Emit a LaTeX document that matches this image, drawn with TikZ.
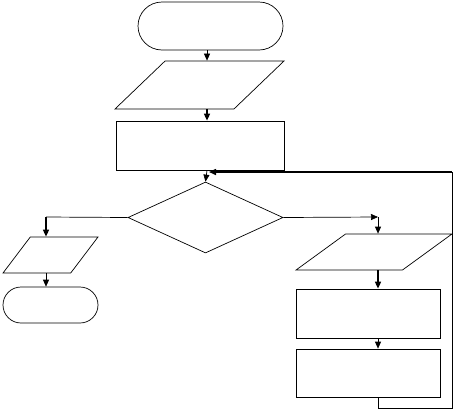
\documentclass[tikz,border=0pt]{standalone}
\usepackage{tikz}
\usetikzlibrary{positioning, arrows.meta, shapes.geometric}

\begin{document}
\begin{tikzpicture}[x=1pt, y=-1pt, line width=0.7pt,
  termbox/.style={draw, rounded corners=#1, inner sep=0pt},
  iobox/.style={draw, trapezium, trapezium stretches=true, inner sep=2pt},
  procbox/.style={draw, rectangle, inner sep=0pt},
  decbox/.style={draw, diamond, inner sep=0pt},
  arr/.style={-{Triangle[length=7pt, width=6pt]}},
  thickarr/.style={arr, line width=1.5pt}]
  \useasboundingbox (0,0) rectangle (454,410);

  % main column
  \node[termbox=24pt, minimum width=145pt, minimum height=48pt] (start) at (210.5,26) {};
  \node[iobox, trapezium left angle=54, trapezium right angle=126,
        minimum width=169pt, minimum height=48pt] (in1) at (199.5,85) {};
  \node[procbox, minimum width=168pt, minimum height=49pt] (proc1) at (200,145.5) {};
  \node[decbox, minimum width=155pt, minimum height=71pt] (dec) at (205.5,217.5) {};

  % left branch
  \node[iobox, trapezium left angle=56, trapezium right angle=124,
        minimum width=95pt, minimum height=36pt] (out1) at (50.5,255) {};
  \node[termbox=18pt, minimum width=95pt, minimum height=36pt] (stop) at (50.5,305) {};

  % right branch
  \node[iobox, trapezium left angle=49, trapezium right angle=131,
        minimum width=156pt, minimum height=36pt] (in2) at (374,252) {};
  \node[procbox, minimum width=144pt, minimum height=49pt] (proc2) at (368,313.5) {};
  \node[procbox, minimum width=144pt, minimum height=48pt] (proc3) at (368,373) {};

  \coordinate (spine) at (207,0);
  \coordinate (lcol) at (46,217);
  \coordinate (rcol) at (378,217);
  \coordinate (join) at (209,172);
  \coordinate (lb) at (378,408);
  \coordinate (rb) at (452,408);
  \coordinate (rt) at (452,172);

  \draw[arr] (start.south -| spine) -- (in1.north -| spine);
  \draw[thickarr] (in1.south -| spine) -- (proc1.north -| spine);
  \draw[arr] (proc1.south -| spine) -- (dec.north);
  \draw (dec.west) -- (lcol);
  \draw[thickarr] (lcol) -- (out1.north -| lcol);
  \draw[arr] (out1.south -| lcol) -- (stop.north -| lcol);
  \draw[arr] (dec.east) -- (rcol);
  \draw[arr] (rcol) -- (in2.north -| rcol);
  \draw[thickarr] (in2.south -| rcol) -- (proc2.north -| rcol);
  \draw[arr] (proc2.south -| rcol) -- (proc3.north -| rcol);
  % loop back
  \draw (proc3.south -| rcol) -- (lb) -- (rb) -- (rt);
  \draw[thickarr] (rt) -- (join);
\end{tikzpicture}
\end{document}
